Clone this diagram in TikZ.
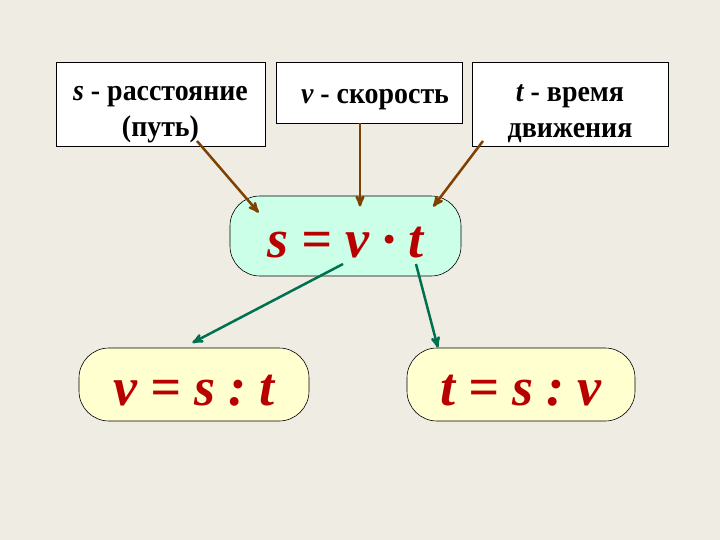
\documentclass[tikz,border=0pt]{standalone}
\usepackage{fontspec}
\setmainfont{Liberation Serif}
\newfontfamily\boxfont[FakeStretch=0.93]{Liberation Serif}
\usetikzlibrary{arrows}
\definecolor{bgrey}{RGB}{238,236,227}
\definecolor{lcyan}{RGB}{204,255,232}
\definecolor{lyellow}{RGB}{255,255,208}
\definecolor{dred}{RGB}{185,0,0}
\definecolor{brown}{RGB}{128,64,0}
\definecolor{dgreen}{RGB}{0,112,80}
\newcommand{\formfont}{\fontsize{54}{54}\selectfont\bfseries\itshape\color{dred}}
\newcommand{\gap}{\hspace{0.24em}}

\begin{document}
\begin{tikzpicture}[x=1pt,y=-1pt,>=stealth',line width=2.5pt]
      \tikzstyle{namebox}=[draw=black,fill=white,line width=0.6pt,align=center,
        font=\boxfont\fontsize{30}{36}\selectfont\bfseries,inner sep=0pt]
      \tikzstyle{formula}=[draw=black,line width=0.6pt,rounded corners=30pt,
        inner sep=0pt,text height=42pt,text depth=0pt,font=\formfont]
      \tikzstyle{feed}=[->,draw=brown,shorten >=0.5pt]
      \tikzstyle{derive}=[->,draw=dgreen,shorten >=0.5pt]

      \fill[bgrey] (0,0) rectangle (720,540);

      \node[namebox,minimum width=209pt,minimum height=84pt] (dist) at (160.5,104)
            {\rule{0pt}{36pt}{\itshape s} - расстояние\\(путь)};
      \node[namebox,minimum width=186pt,minimum height=61pt] (speed) at (369,92.5)
            {\rule{0pt}{29pt}\hspace*{12pt}{\itshape v} - скорость};
      \node[namebox,minimum width=196pt,minimum height=84pt] (time) at (570,104)
            {\rule{0pt}{36pt}{\itshape t} - время\\движения};

      \node[formula,fill=lcyan,minimum width=231pt,minimum height=80pt] (main) at (345.5,236)
            {s\gap=\gap v\gap ·\gap t};
      \node[formula,fill=lyellow,minimum width=230pt,minimum height=73pt] (vel) at (194,384.5)
            {v\gap=\gap s\gap:\gap t};
      \node[formula,fill=lyellow,minimum width=228pt,minimum height=73pt] (dur) at (521,384.5)
            {t\gap=\gap s\gap:\gap v};

      \coordinate (d1) at (197,141);
      \coordinate (m1) at (259,213);
      \coordinate (s1) at (360,123);
      \coordinate (m2) at (360,207);
      \coordinate (t1) at (483,141);
      \coordinate (m3) at (433,207);
      \coordinate (m4) at (343,264);
      \coordinate (v1) at (192,343);
      \coordinate (m5) at (416,264);
      \coordinate (u1) at (438,348);

      \path (d1) edge[feed] (m1)
            (s1) edge[feed] (m2)
            (t1) edge[feed] (m3)
            (m4) edge[derive] (v1)
            (m5) edge[derive] (u1);

  \end{tikzpicture}
\end{document}
